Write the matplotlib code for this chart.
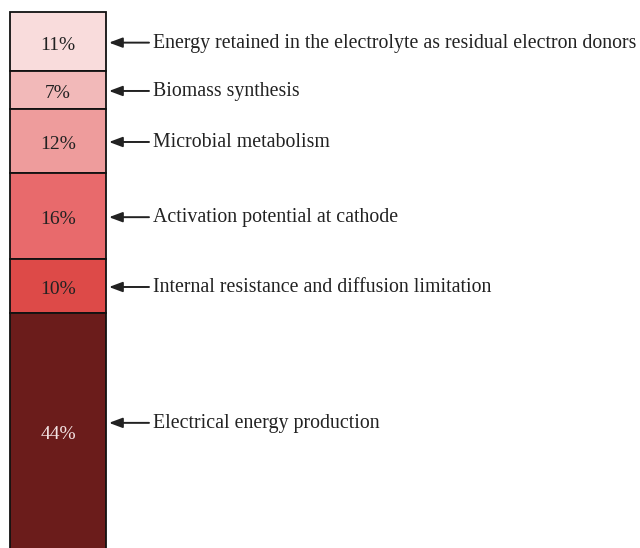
import matplotlib.pyplot as plt
import numpy as np

plt.rcParams['font.family'] = ['Liberation Serif', 'DejaVu Serif']

# energy share of each part, top to bottom
shares = [11, 7, 12, 16, 10, 44]
labels = ["Energy retained in the electrolyte as residual electron donors",
          "Biomass synthesis",
          "Microbial metabolism",
          "Activation potential at cathode",
          "Internal resistance and diffusion limitation",
          "Electrical energy production"]
colors = ['#f9dcdc', '#f2b9b9', '#ee9c9c', '#e86a6c', '#dd4a48', '#6b1c1b']
text_colors = ['#222222'] * 5 + ['#f3e3e3']

fig = plt.figure(figsize=(6.4, 5.48), dpi=100)
ax = fig.add_axes([0, 0, 1, 1])

bottoms = np.concatenate([[0], np.cumsum(shares)[:-1]])
centers = bottoms + np.array(shares) / 2

ax.bar([58] * len(shares), shares, bottom=bottoms, width=96,
       color=colors, edgecolor='#111111', linewidth=1.3)

for c, s, tc, lab in zip(centers, shares, text_colors, labels):
    ax.text(58, c + 0.3, f"{s}%", ha='center', va='center_baseline',
            fontsize=14, color=tc)
    ay = c - 1.5 if s > 30 else c + 0.2
    ax.annotate("", xy=(109, ay), xytext=(149, ay),
                arrowprops=dict(arrowstyle='-|>,head_length=0.8,head_width=0.3',
                                color='#222222', lw=1.4,
                                shrinkA=0, shrinkB=0))
    ax.text(153, ay + 0.95, lab, ha='left', va='baseline', fontsize=14.3,
            color='#222222')

ax.set_xlim(0, 640)
ax.set_ylim(99.8, -12 / 5.36)
ax.axis('off')

fig.savefig('out.png', dpi=100)
